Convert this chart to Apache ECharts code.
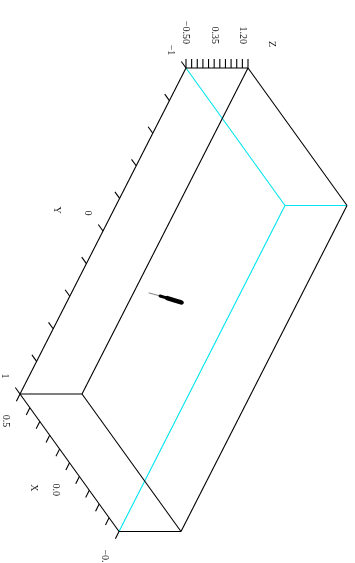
<!DOCTYPE html>
<html>
<head>
<meta charset="utf-8">
<script src="https://cdn.jsdelivr.net/npm/echarts@6/dist/echarts.min.js"></script>
<style>
  html, body { margin: 0; padding: 0; background: #ffffff; }
  #chart { width: 355px; height: 563px; }
</style>
</head>
<body>
<div id="chart"></div>
<script>
// ---- axis ranges ----
const xRange = [-0.5, 0.5];
const yRange = [-1, 1];
const zRange = [-0.5, 1.37];

// ---- tick marks ----
const xTicks = [0.5, 0.4, 0.3, 0.2, 0.1, 0.0, -0.1, -0.2, -0.3, -0.4, -0.5];
const yTicks = [-1, -0.8, -0.6, -0.4, -0.2, 0, 0.2, 0.4, 0.6, 0.8, 1];
const zTicks = [-0.5, -0.33, -0.16, 0.01, 0.18, 0.35, 0.52, 0.69, 0.86, 1.03, 1.2, 1.37];

// ---- tick labels ----
const xLabelValues = [0.5, 0, -0.5];
const xLabelTexts = ['0.5', '0.0', '\u22120.5'];
const yLabelValues = [-1, 0, 1];
const yLabelTexts = ['\u22121', '0', '1'];
const zLabelValues = [-0.5, 0.35, 1.2];
const zLabelTexts = ['\u22120.50', '0.35', '1.20'];

// ---- the plotted trace (faint tail, then dense core) ----
const tailX = [0.049, 0.038, 0.027];
const tailY = [0, 0, 0];
const tailZ = [-0.457, -0.32, -0.19];
const coreX = [0.027, 0.012, -0.004, -0.022];
const coreY = [0, 0, 0, 0];
const coreZ = [-0.19, -0.02, 0.15, 0.33];
const bulgeX = [0.012, -0.004, -0.019];
const bulgeY = [0, 0, 0];
const bulgeZ = [-0.02, 0.15, 0.31];

// ---- view: where the unit box lands on the drawing plane ----
const view = {
  origin: [285, 205.5],     // (xMin, yMin, zMin)
  ax: [-99, -137.5],        // full x span
  ay: [-166, 326],          // full y span
  az: [62, 0]               // full z span
};

function project(x, y, z) {
  const u = (x - xRange[0]) / (xRange[1] - xRange[0]);
  const v = (y - yRange[0]) / (yRange[1] - yRange[0]);
  const w = (z - zRange[0]) / (zRange[1] - zRange[0]);
  return [
    view.origin[0] + u * view.ax[0] + v * view.ay[0] + w * view.az[0],
    view.origin[1] + u * view.ax[1] + v * view.ay[1] + w * view.az[1]
  ];
}
function unit(vec) {
  const l = Math.hypot(vec[0], vec[1]);
  return [vec[0] / l, vec[1] / l];
}

const FONT = '10px "Liberation Serif", "DejaVu Serif", serif';
const ROT = -Math.PI / 2;

// ---- box edges: corners (i,j,k) in {0,1}^3; edges touching (0,0,0) are the back ones ----
const edgeData = [];
for (let i = 0; i < 2; i++) for (let j = 0; j < 2; j++) for (let k = 0; k < 2; k++) {
  const a = [xRange[i], yRange[j], zRange[k]];
  [[1, 0, 0], [0, 1, 0], [0, 0, 1]].forEach(function (d) {
    if ((d[0] && i) || (d[1] && j) || (d[2] && k)) return;
    const b = [xRange[i + d[0]], yRange[j + d[1]], zRange[k + d[2]]];
    const back = (i === 0 && j === 0 && k === 0) ? 1 : 0;
    edgeData.push([a[0], a[1], a[2], b[0], b[1], b[2], back]);
  });
}

// ---- tick items: [axisIndex, value] ----
const tickData = []
  .concat(xTicks.map(v => [0, v]))
  .concat(yTicks.map(v => [1, v]))
  .concat(zTicks.map(v => [2, v]));

const labelData = []
  .concat(xLabelValues.map((v, i) => [0, v, i]))
  .concat(yLabelValues.map((v, i) => [1, v, i]))
  .concat(zLabelValues.map((v, i) => [2, v, i]));
const labelTexts = [xLabelTexts, yLabelTexts, zLabelTexts];

function axisBase(axis, val) {
  if (axis === 0) return project(val, yRange[1], zRange[0]);
  if (axis === 1) return project(xRange[1], val, zRange[0]);
  return project(xRange[1], yRange[0], val);
}
const tickDirs = [unit(view.ay), unit(view.ax), [0, -1]];
const tickLens = [8, 8, 9];
const labelOffsets = [[-14, 27], [-15, -18], [0, -24]];
const labelAlign = ['center', 'center', 'right'];

const titleTexts = ['X', 'Y', 'Z'];
const titleOffsets = [[-36, 25], [-46, -21], [24, -24]];
function titleBase(axis) {
  if (axis === 0) return axisBase(0, (xRange[0] + xRange[1]) / 2);
  if (axis === 1) return axisBase(1, (yRange[0] + yRange[1]) / 2);
  return axisBase(2, zRange[1]);
}

function traceSeries(xs, ys, zs, color, width) {
  const pts = xs.map((x, i) => [x, ys[i], zs[i]]);
  return {
    type: 'custom',
    coordinateSystem: 'cartesian2d',
    data: [[0, 0]],
    renderItem: function (params, api) {
      return {
        type: 'polyline',
        shape: { points: pts.map(p => api.coord(project(p[0], p[1], p[2]))) },
        style: { stroke: color, lineWidth: width, fill: null, lineCap: 'round', lineJoin: 'round' }
      };
    }
  };
}

const chart = echarts.init(document.getElementById('chart'), null, { renderer: 'canvas' });
chart.setOption({
  animation: false,
  backgroundColor: '#ffffff',
  grid: { left: 0, right: 0, top: 0, bottom: 0 },
  xAxis: { type: 'value', min: 0, max: 355, show: false },
  yAxis: { type: 'value', min: 0, max: 563, inverse: true, show: false },
  series: [
    {
      type: 'custom',
      coordinateSystem: 'cartesian2d',
      data: edgeData,
      renderItem: function (params, api) {
        const a = api.coord(project(api.value(0), api.value(1), api.value(2)));
        const b = api.coord(project(api.value(3), api.value(4), api.value(5)));
        return {
          type: 'line',
          shape: { x1: a[0], y1: a[1], x2: b[0], y2: b[1] },
          style: { stroke: api.value(6) ? '#00e5ee' : '#000000', lineWidth: 1.1 }
        };
      }
    },
    {
      type: 'custom',
      coordinateSystem: 'cartesian2d',
      data: tickData,
      renderItem: function (params, api) {
        const axis = api.value(0);
        const b = axisBase(axis, api.value(1));
        const d = tickDirs[axis], L = tickLens[axis];
        const p = api.coord(b);
        const q = api.coord([b[0] + d[0] * L, b[1] + d[1] * L]);
        return {
          type: 'line',
          shape: { x1: p[0], y1: p[1], x2: q[0], y2: q[1] },
          style: { stroke: '#000000', lineWidth: 1.1 }
        };
      }
    },
    {
      type: 'custom',
      coordinateSystem: 'cartesian2d',
      data: labelData,
      renderItem: function (params, api) {
        const axis = api.value(0);
        const b = axisBase(axis, api.value(1));
        const o = labelOffsets[axis];
        const p = api.coord([b[0] + o[0], b[1] + o[1]]);
        return {
          type: 'text',
          x: p[0], y: p[1], rotation: ROT,
          style: {
            text: labelTexts[axis][api.value(2)],
            font: FONT, fill: '#111111',
            align: labelAlign[axis], verticalAlign: 'middle'
          }
        };
      }
    },
    {
      type: 'custom',
      coordinateSystem: 'cartesian2d',
      data: [[0, 0], [1, 0], [2, 0]],
      renderItem: function (params, api) {
        const axis = api.value(0);
        const b = titleBase(axis);
        const o = titleOffsets[axis];
        const p = api.coord([b[0] + o[0], b[1] + o[1]]);
        return {
          type: 'text',
          x: p[0], y: p[1], rotation: ROT,
          style: {
            text: titleTexts[axis], font: FONT, fill: '#111111',
            align: 'center', verticalAlign: 'middle'
          }
        };
      }
    },
    traceSeries(tailX, tailY, tailZ, '#8a8a8a', 1.2),
    traceSeries(coreX, coreY, coreZ, '#000000', 3),
    traceSeries(bulgeX, bulgeY, bulgeZ, '#000000', 4.5)
  ]
});
</script>
</body>
</html>
